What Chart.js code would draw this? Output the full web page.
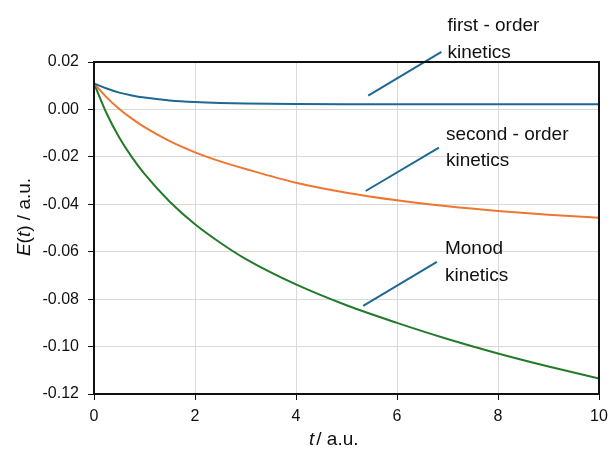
<!DOCTYPE html>
<html>
<head>
<meta charset="utf-8">
<script src="https://cdn.jsdelivr.net/npm/chart.js@4"></script>
<style>
  body { margin: 0; background: #fff; }
  canvas { display: block; }
</style>
</head>
<body>
<canvas id="grafico" width="610" height="450"></canvas>
<script>
// tempos (a.u.)
const tempos = [0, 0.25, 0.5, 0.75, 1, 1.5, 2, 2.5, 3, 4, 5, 6, 7, 8, 9, 10];

// E(t)
const primeiraOrdem = [0.0110, 0.0088, 0.0071, 0.0059, 0.0050, 0.0038, 0.0031, 0.0027, 0.0025, 0.0023, 0.0022, 0.0022, 0.0022, 0.0022, 0.0022, 0.0022];
const segundaOrdem = [0.0110, 0.0051, 0.0002, -0.0039, -0.0075, -0.0134, -0.0181, -0.0219, -0.0251, -0.0309, -0.0351, -0.0383, -0.0408, -0.0428, -0.0444, -0.0457];
const monod = [0.0110, -0.0017, -0.0118, -0.0201, -0.0272, -0.0389, -0.0484, -0.0562, -0.0630, -0.0738, -0.0826, -0.0900, -0.0968, -0.1029, -0.1084, -0.1135];

// ticks dos eixos
const xTicks = [0, 2, 4, 6, 8, 10];
const yTicks = [0.02, 0.00, -0.02, -0.04, -0.06, -0.08, -0.10, -0.12];

// rótulos com linha indicadora (coordenadas em unidades de dados)
const rotulos = [
    { texto: ['first - order', 'kinetics'], seta: [{ x: 5.43, y: 0.0058 }, { x: 6.88, y: 0.0243 }], pos: { x: 7.0, y: [0.0332, 0.0216] } },
    { texto: ['second - order', 'kinetics'], seta: [{ x: 5.38, y: -0.0344 }, { x: 6.83, y: -0.0161 }], pos: { x: 6.97, y: [-0.0129, -0.0237] } },
    { texto: ['Monod', 'kinetics'], seta: [{ x: 5.33, y: -0.0828 }, { x: 6.79, y: -0.0643 }], pos: { x: 6.95, y: [-0.0611, -0.0722] } }
];

const FONTE = '"Liberation Sans", Arial, sans-serif';
const AZUL = '#1f6891';

const pontos = serie => tempos.map((t, i) => ({ x: t, y: serie[i] }));

const curva = (label, serie, cor) => ({
    label: label,
    data: pontos(serie),
    borderColor: cor,
    borderWidth: 2,
    pointRadius: 0,
    fill: false,
    cubicInterpolationMode: 'monotone'
});

const setas = rotulos.map(r => ({
    label: 'seta',
    data: r.seta,
    borderColor: AZUL,
    borderWidth: 2,
    pointRadius: 0,
    clip: false
}));

// textos e títulos dos eixos
const textosPlugin = {
    id: 'textos',
    afterDraw(chart) {
        const ctx = chart.ctx;
        const sx = chart.scales.x, sy = chart.scales.y;
        const area = chart.chartArea;

        // moldura
        ctx.save();
        ctx.strokeStyle = '#111';
        ctx.lineWidth = 2;
        ctx.strokeRect(area.left, area.top, area.right - area.left, area.bottom - area.top);

        ctx.fillStyle = '#111';
        ctx.textBaseline = 'alphabetic';
        ctx.textAlign = 'left';
        ctx.font = '19px ' + FONTE;
        rotulos.forEach(r => {
            r.texto.forEach((linha, i) => {
                ctx.fillText(linha, sx.getPixelForValue(r.pos.x), sy.getPixelForValue(r.pos.y[i]));
            });
        });

        // título eixo x: t / a.u.
        const partesX = [['t', 'italic 19px '], ['/ a.u.', '19px ']];
        let xx = 309;
        partesX.forEach((p, i) => {
            ctx.font = p[1] + FONTE;
            ctx.fillText(p[0], xx, 445);
            xx += ctx.measureText(p[0]).width + (i === 0 ? 2 : 0);
        });

        // título eixo y: E(t) / a.u.
        const partesY = [['E', 'italic 19px '], ['(', '19px '], ['t', 'italic 19px '], [') / a.u.', '19px ']];
        let total = 0;
        partesY.forEach(p => { ctx.font = p[1] + FONTE; total += ctx.measureText(p[0]).width; });
        ctx.translate(30, 217);
        ctx.rotate(-Math.PI / 2);
        let px = -total / 2;
        partesY.forEach(p => {
            ctx.font = p[1] + FONTE;
            ctx.fillText(p[0], px, 0);
            px += ctx.measureText(p[0]).width;
        });
        ctx.restore();
    }
};

const config = {
    type: 'line',
    data: {
        datasets: [
            curva('first-order', primeiraOrdem, AZUL),
            curva('second-order', segundaOrdem, '#ee7631'),
            curva('Monod', monod, '#237a2a'),
            ...setas
        ]
    },
    options: {
        responsive: false,
        animation: false,
        layout: { padding: { top: 62, right: 11, left: 0, bottom: 0 } },
        plugins: {
            legend: { display: false },
            tooltip: { enabled: false }
        },
        scales: {
            x: {
                type: 'linear',
                min: 0,
                max: 10,
                afterBuildTicks: s => { s.ticks = xTicks.map(v => ({ value: v })); },
                afterFit: s => { s.height = 56; s.paddingLeft = 0; s.paddingRight = 0; },
                grid: { color: '#d9d9d9', lineWidth: 1, tickColor: '#111', tickLength: 6 },
                border: { color: '#111', width: 2 },
                ticks: { color: '#111', padding: 7, font: { family: FONTE, size: 16 }, maxRotation: 0 }
            },
            y: {
                min: -0.12,
                max: 0.02,
                afterBuildTicks: s => { s.ticks = yTicks.map(v => ({ value: v })); },
                afterFit: s => { s.width = 94; s.paddingTop = 0; s.paddingBottom = 0; },
                grid: { color: '#d9d9d9', lineWidth: 1, tickColor: '#111', tickLength: 6 },
                border: { color: '#111', width: 2 },
                ticks: {
                    color: '#111',
                    padding: 9,
                    font: { family: FONTE, size: 16 },
                    callback: v => v.toFixed(2)
                }
            }
        }
    },
    plugins: [textosPlugin]
};

new Chart(document.getElementById('grafico').getContext('2d'), config);
</script>
</body>
</html>
